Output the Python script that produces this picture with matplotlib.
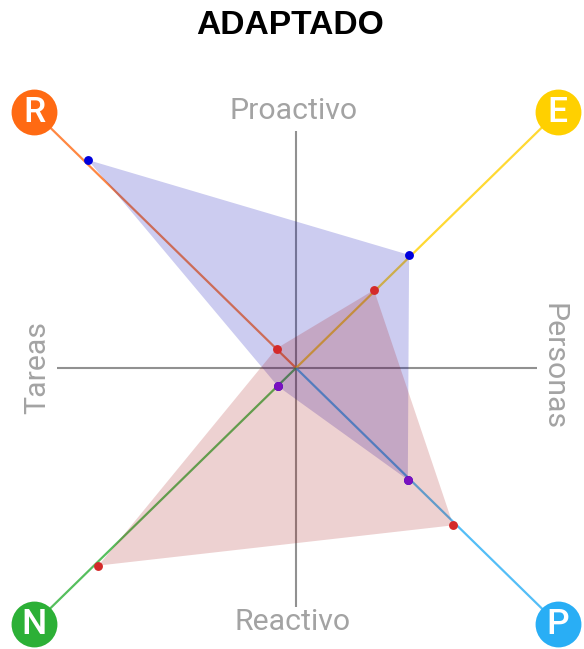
import matplotlib
matplotlib.use("Agg")
import matplotlib.pyplot as plt
import numpy as np

title = "ADAPTADO"
arms = ["R", "E", "P", "N"]
arm_colors = ["#ff6a13", "#ffd000", "#29aef5", "#2cb036"]
arm_dirs_x = [-1, 1, 1, -1]
arm_dirs_y = [1, 1, -1, -1]
arm_ends_x = [100.7, 100.7, 100.7, 100.7]
arm_ends_y = [98.5, 98.5, 98.5, 98.5]
blue_values = [80, 43.5, 43, 7]
red_values = [7.5, 30, 60.5, 76]
axis_labels = ["Proactivo", "Reactivo", "Tareas", "Personas"]

PX = 2.6  # pixels per data unit
W, H = 584, 649
CX, CY = 296, 368

fig = plt.figure(figsize=(W / 100, H / 100), dpi=100, facecolor="white")
ax = fig.add_axes([0, 0, 1, 1])
ax.set_xlim(-CX / PX, (W - CX) / PX)
ax.set_ylim(-(H - CY) / PX, CY / PX)
ax.axis("off")

dx = np.array(arm_dirs_x)
dy = np.array(arm_dirs_y)
ex = dx * np.array(arm_ends_x)
ey = dy * np.array(arm_ends_y)

# cross axes
gray = "#858585"
ax.plot([-92, 92.5], [0, 0], color=gray, lw=1.5, alpha=0.9, zorder=1, solid_capstyle="butt")
ax.plot([0, 0], [-92, 91], color=gray, lw=1.5, alpha=0.9, zorder=1, solid_capstyle="butt")

# arms
for x, y, c in zip(ex, ey, arm_colors):
    ax.plot([0, x], [0, y], color=c, lw=1.6, alpha=0.8, zorder=2, solid_capstyle="butt")

# blue polygon and points
bv = np.array(blue_values)
ax.fill(dx * bv, dy * bv, color="#0000b4", alpha=0.2, lw=0, zorder=3)
ax.plot(dx * bv, dy * bv, ls="none", marker="o", ms=6.4, color="#0000dd", mew=0, zorder=4)

# red polygon and points
rv = np.array(red_values)
ax.fill(dx * rv, dy * rv, color="#a00000", alpha=0.18, lw=0, zorder=5)
ax.plot((dx * bv)[2:], (dy * bv)[2:], ls="none", marker="o", ms=6.4, color="#7a10c0", mew=0, zorder=6)
ax.plot(dx * rv, dy * rv, ls="none", marker="o", ms=6.4, color="#d42a2a", mew=0, zorder=7)

# badges
for x, y, c, t in zip(ex, ey, arm_colors, arms):
    ax.plot([x], [y], marker="o", ms=33, color=c, mew=0, zorder=8)
    ax.text(x, y - 0.3, t, color="white", family="Roboto", fontweight="medium", fontsize=25.5,
            ha="center", va="center", zorder=9)

# axis labels
lab = dict(color="#a3a3a3", family="Roboto", fontsize=21.8, ha="center", va="center")
ax.text(-0.8, 98.9, axis_labels[0], **lab)
ax.text(-1.2, -97.7, axis_labels[1], **lab)
ax.text(-99.5, 0.3, axis_labels[2], rotation=90, **lab)
ax.text(99.0, 0.5, axis_labels[3], rotation=270, **lab)

fig.text(290.5 / W, 1 - 25.5 / H, title, family="Liberation Sans", fontweight="bold",
         fontsize=24.2, ha="center", va="center", color="black")

fig.savefig("out.png", dpi=100)
